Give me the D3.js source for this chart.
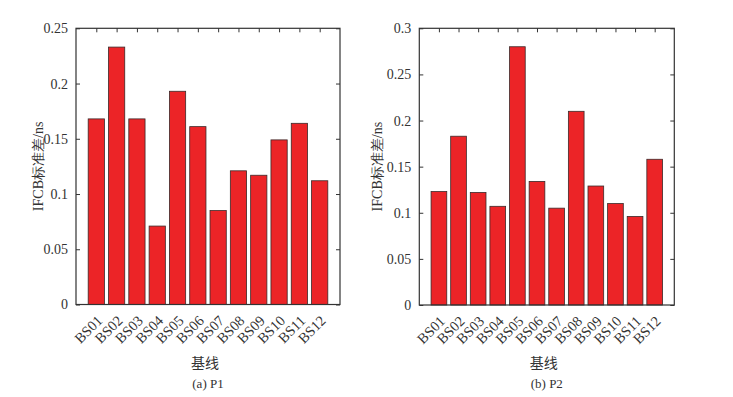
<!DOCTYPE html>
<html><head><meta charset="utf-8">
<script src="https://cdn.jsdelivr.net/npm/d3@7"></script>
<style>body{margin:0;background:#fff} text{font-family:"Liberation Serif","Times New Roman",Times,serif}</style>
</head><body><svg id="c" width="733" height="397"></svg>
<script>
const categories = ["BS01","BS02","BS03","BS04","BS05","BS06","BS07","BS08","BS09","BS10","BS11","BS12"];
const valuesP1 = [0.168,0.233,0.168,0.071,0.193,0.161,0.085,0.121,0.117,0.149,0.164,0.112];
const valuesP2 = [0.123,0.183,0.122,0.107,0.280,0.134,0.105,0.210,0.129,0.110,0.096,0.158];
const ticksP1 = [0,0.05,0.1,0.15,0.2,0.25];
const ticksP2 = [0,0.05,0.1,0.15,0.2,0.25,0.3];
const yLabel = "IFCB标准差/ns";
const xLabel = "基线";
const captions = ["(a) P1","(b) P2"];

const svg = d3.select("#c");
const txtColor = "#333";

function panel(opts){
  const {x0,x1,y0,y1,vals,ticks,ymax,caption,ylabX} = opts;
  const g = svg.append("g");
  const x = d3.scaleLinear().domain([0,13]).range([x0,x1]);
  const y = d3.scaleLinear().domain([0,ymax]).range([y1,y0]);
  const step = x(1)-x(0);
  const bw = step*0.8;
  g.selectAll("rect.bar").data(vals).enter().append("rect")
    .attr("x",(d,i)=>x(i+1)-bw/2).attr("width",bw)
    .attr("y",d=>y(d)).attr("height",d=>y(0)-y(d))
    .attr("fill","#ec2427").attr("stroke","#3a2a2a").attr("stroke-width",0.8);
  g.append("rect").attr("x",x0).attr("y",y0).attr("width",x1-x0).attr("height",y1-y0)
    .attr("fill","none").attr("stroke","#333").attr("stroke-width",1.2);
  const yl = g.append("g").attr("transform",`translate(${x0},0)`)
    .call(d3.axisLeft(y).tickValues(ticks).tickSize(-4).tickPadding(8).tickFormat(d=>String(+d.toFixed(2))));
  yl.select(".domain").remove();
  yl.attr("font-family",null);
  yl.selectAll("line").attr("stroke","#333");
  yl.selectAll("text").style("font-family",'"Liberation Serif",serif').attr("font-size",14).attr("fill",txtColor);
  const yr = g.append("g").attr("transform",`translate(${x1},0)`)
    .call(d3.axisRight(y).tickValues(ticks).tickSize(-4).tickFormat(""));
  yr.select(".domain").remove();
  yr.selectAll("line").attr("stroke","#333");
  const xt = g.append("g").attr("transform",`translate(0,${y0})`)
    .call(d3.axisTop(x).tickValues(d3.range(1,13)).tickSize(-4).tickFormat(""));
  xt.select(".domain").remove();
  xt.selectAll("line").attr("stroke","#333");
  g.selectAll("text.xl").data(categories).enter().append("text")
    .attr("transform",(d,i)=>`translate(${x(i+1)+7},${y1+17}) rotate(-45)`)
    .attr("text-anchor","end").attr("font-size",14.5).attr("fill",txtColor)
    .text(d=>d);
  const cx = (x0+x1)/2;
  g.append("text").attr("x",cx-3).attr("y",368).attr("text-anchor","middle")
    .style("font-family","'Noto Sans CJK SC',serif").attr("font-size",14).attr("fill",txtColor).text(xLabel);
  g.append("text").attr("x",cx).attr("y",388).attr("text-anchor","middle")
    .attr("font-size",13).attr("fill",txtColor).text(caption);
  g.append("text").attr("transform",`translate(${ylabX},${(y0+y1)/2}) rotate(-90)`)
    .attr("text-anchor","middle").attr("font-size",14).attr("fill",txtColor)
    .text(yLabel);
}
panel({x0:76,x1:340,y0:28.3,y1:304.5,vals:valuesP1,ticks:ticksP1,ymax:0.25,caption:captions[0],ylabX:43});
panel({x0:419.3,x1:674.3,y0:28.3,y1:305,vals:valuesP2,ticks:ticksP2,ymax:0.3,caption:captions[1],ylabX:382});
</script></body></html>
